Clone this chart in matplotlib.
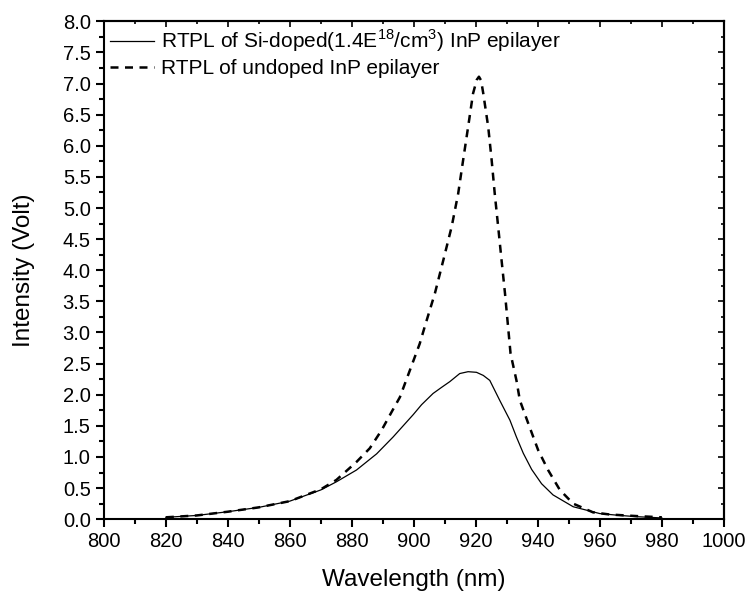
import matplotlib
matplotlib.use("Agg")
import matplotlib.pyplot as plt
from matplotlib.ticker import MultipleLocator, FormatStrFormatter, NullFormatter

plt.rcParams['font.family'] = ['Liberation Sans', 'DejaVu Sans']

# RTPL of Si-doped InP epilayer (solid)
wl_si = [820, 830, 840, 850, 860, 870, 875, 881.5, 888, 893.3, 899.8, 902.5, 906.2,
         909, 911.6, 914.8, 917.5, 920.2, 922.4, 924.5, 927.7, 931, 933.1, 935.3,
         938, 941.2, 944.9, 951.4, 960, 966.5, 972, 980]
int_si = [0.03, 0.06, 0.12, 0.19, 0.29, 0.47, 0.60, 0.79, 1.05, 1.32, 1.68, 1.84, 2.02,
          2.12, 2.21, 2.34, 2.37, 2.36, 2.31, 2.23, 1.91, 1.59, 1.32, 1.06,
          0.80, 0.57, 0.39, 0.20, 0.09, 0.06, 0.04, 0.02]

# RTPL of undoped InP epilayer (dashed)
wl_un = [820, 830, 840, 850, 860, 870, 875, 881.5, 885.8, 889.6, 892.8, 895.5, 899.3,
         901.9, 903.5, 906.8, 909.5, 912.2, 914.3, 915.9, 917.5, 919.1, 920.3, 921,
         921.7, 922.4, 924, 925.1, 926.1, 927.2, 928.3, 929.4, 930.4, 931.2, 933.1,
         934.2, 936.9, 940.1, 943.3, 947.1, 951.4, 957.8, 963.2, 971.8, 980]
int_un = [0.03, 0.06, 0.12, 0.19, 0.29, 0.48, 0.63, 0.92, 1.14, 1.43, 1.72, 1.96, 2.47,
          2.82, 3.09, 3.63, 4.16, 4.70, 5.23, 5.77, 6.30, 6.84, 7.06, 7.11,
          7.05, 6.84, 6.30, 5.77, 5.23, 4.70, 4.16, 3.63, 3.09, 2.66, 2.23,
          1.91, 1.54, 1.11, 0.79, 0.47, 0.25, 0.11, 0.075, 0.05, 0.03]

fig = plt.figure(figsize=(7.47, 5.92), dpi=100)
ax = fig.add_axes([0.139, 0.123, 0.830, 0.841])

ax.plot(wl_si, int_si, color='black', lw=0.9,
        label=r'RTPL of Si-doped(1.4E$^{\mathregular{18}}$/cm$^{\mathregular{3}}$) InP epilayer')
l2, = ax.plot(wl_un, int_un, color='black', lw=1.8, label='RTPL of undoped InP epilayer')
l2.set_dashes((3.2, 2.6))

ax.set_xlim(800, 1000)
ax.set_ylim(0, 8)
ax.xaxis.set_major_locator(MultipleLocator(20))
ax.xaxis.set_minor_locator(MultipleLocator(10))
ax.yaxis.set_major_locator(MultipleLocator(0.5))
ax.yaxis.set_minor_locator(MultipleLocator(0.25))
ax.yaxis.set_major_formatter(FormatStrFormatter('%.1f'))

for s in ax.spines.values():
    s.set_linewidth(1.5)
ax.tick_params(which='major', direction='out', length=6, width=1.5, labelsize=14.5)
ax.tick_params(which='minor', direction='out', length=3.5, width=1.5)

# top and right: inward ticks, no labels
top = ax.secondary_xaxis('top')
top.xaxis.set_major_locator(MultipleLocator(20))
top.xaxis.set_minor_locator(MultipleLocator(10))
top.xaxis.set_major_formatter(NullFormatter())
top.tick_params(which='major', direction='in', length=4, width=1.2)
top.tick_params(which='minor', direction='in', length=2.5, width=1.2)
right = ax.secondary_yaxis('right')
right.yaxis.set_major_locator(MultipleLocator(0.5))
right.yaxis.set_minor_locator(MultipleLocator(0.25))
right.yaxis.set_major_formatter(NullFormatter())
right.tick_params(which='major', direction='in', length=4, width=1.2)
right.tick_params(which='minor', direction='in', length=2.5, width=1.2)
for sa in (top, right):
    for s in sa.spines.values():
        s.set_linewidth(1.5)

ax.set_xlabel('Wavelength (nm)', fontsize=17.5, labelpad=13)
ax.set_ylabel('Intensity (Volt)', fontsize=17.5, labelpad=20)

ax.legend(loc='upper left', frameon=False, fontsize=15, handlelength=2.1,
          handletextpad=0.35, borderaxespad=0.1, borderpad=0.2, labelspacing=0.25)

fig.savefig('out.png', dpi=100)
